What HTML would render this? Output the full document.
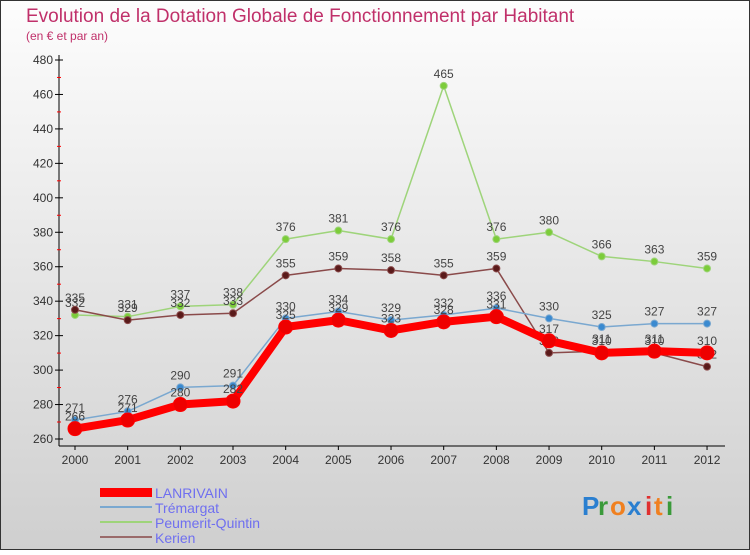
<!DOCTYPE html>
<html><head><meta charset="utf-8"><style>
body{margin:0;width:750px;height:550px;overflow:hidden;font-family:"Liberation Sans",sans-serif}
</style></head><body>
<svg width="750" height="550" xmlns="http://www.w3.org/2000/svg">
<defs><linearGradient id="bg" x1="0" y1="0" x2="0" y2="1"><stop offset="0" stop-color="#fdfdfd"/><stop offset="1" stop-color="#cfcfcf"/></linearGradient></defs>
<rect x="0.5" y="0.5" width="749" height="549" fill="url(#bg)" stroke="#333"/>
<text x="26" y="22" font-size="19" fill="#c0306a">Evolution de la Dotation Globale de Fonctionnement par Habitant</text>
<text x="26" y="40" font-size="12" fill="#c0306a">(en € et par an)</text>
<g id="axes"></g><g id="series"></g>
<g>
<rect x="100" y="488" width="52" height="9" fill="#f00"/>
<text x="155" y="498" font-size="14" fill="#6f6ff0">LANRIVAIN</text>
<rect x="100" y="506" width="52" height="2" fill="#7aa8d0"/>
<text x="155" y="513" font-size="14" fill="#6f6ff0">Trémargat</text>
<rect x="100" y="521" width="52" height="2" fill="#9ed47a"/>
<text x="155" y="528" font-size="14" fill="#6f6ff0">Peumerit-Quintin</text>
<rect x="100" y="536" width="52" height="2" fill="#9a6a6a"/>
<text x="155" y="543" font-size="14" fill="#6f6ff0">Kerien</text>
</g>
<g font-size="26" font-weight="bold">
<text x="582" y="515" fill="#2a7fd0">P</text><text x="598" y="515" fill="#3a9a3a">r</text><text x="610" y="515" fill="#f08020">o</text><text x="627" y="515" fill="#2a7fd0">x</text><text x="645" y="515" fill="#e03030">i</text><text x="654" y="515" fill="#f08020">t</text><text x="666" y="515" fill="#3a9a3a">i</text>
</g>
</svg>
<script>
const years=[2000,2001,2002,2003,2004,2005,2006,2007,2008,2009,2010,2011,2012];
const yTicks=[260,280,300,320,340,360,380,400,420,440,460,480];
const lanrivain=[266,271,280,282,325,329,323,328,331,317,310,311,310];
const tremargat=[271,276,290,291,330,334,329,332,336,330,325,327,327];
const peumerit=[332,331,337,338,376,381,376,465,376,380,366,363,359];
const kerien=[335,329,332,333,355,359,358,355,359,310,311,310,302];
const NS="http://www.w3.org/2000/svg";
const xS=i=>75+i*52.67;
const yS=v=>439-(v-260)*379/220;
function mk(t,a,p){const e=document.createElementNS(NS,t);for(const k in a)e.setAttribute(k,a[k]);p.appendChild(e);return e;}
const ax=document.getElementById('axes');
let l=mk('line',{x1:59,y1:55,x2:59,y2:446,stroke:'#000'},ax);


l=mk('line',{x1:59,y1:446,x2:725,y2:446,stroke:'#000'},ax);


yTicks.forEach(v=>{const y=yS(v);
mk('line',{x1:55,y1:y,x2:63,y2:y,stroke:'#000'},ax);
if(v<480)mk('line',{x1:57,y1:y-17,x2:61,y2:y-17,stroke:'#f00'},ax);
const t=mk('text',{x:53,y:y+4,'font-size':12,'text-anchor':'end',fill:'#333'},ax);t.textContent=v;

});
years.forEach((yr,i)=>{const x=xS(i);
mk('line',{x1:x,y1:446,x2:x,y2:450,stroke:'#000'},ax);
const t=mk('text',{x:x,y:464,'font-size':12,'text-anchor':'middle',fill:'#333'},ax);t.textContent=yr;

});
const sg=document.getElementById('series');
function series(d,name,col,dot,w,r,dy){
const g=mk('g',{},sg);


mk('polyline',{points:d.map((v,i)=>xS(i)+','+yS(v)).join(' '),fill:'none',stroke:col,'stroke-width':w,'stroke-linejoin':'round'},g);
d.forEach((v,i)=>{const c=mk('circle',{cx:xS(i),cy:yS(v),r:r,fill:dot,stroke:col,'stroke-width':1},g);


const t=mk('text',{x:xS(i),y:yS(v)+dy,'font-size':12,'text-anchor':'middle',fill:'#444'},g);t.textContent=v;});}
series(peumerit,'peumerit','#9ed47a','#7ccc3a',1.5,3.5,-8);
series(kerien,'kerien','#8a4a4a','#5a1a1a',1.5,3.5,-8);
series(tremargat,'tremargat','#7aa8d0','#3a8ad0',1.5,3.5,-8);
series(lanrivain,'lanrivain','#f00','#e00',8,7,-8);
</script>
</body></html>
